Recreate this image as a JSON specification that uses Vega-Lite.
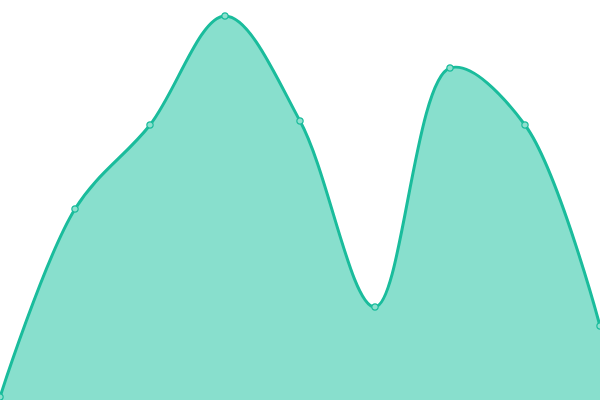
{
  "$schema": "https://vega.github.io/schema/vega-lite/v6.json",
  "width": 600,
  "height": 400,
  "autosize": {"type": "none"},
  "padding": 0,
  "view": {"stroke": null},
  "data": {
    "values": [
      {"i": 0, "v": 3},
      {"i": 1, "v": 191},
      {"i": 2, "v": 275},
      {"i": 3, "v": 384},
      {"i": 4, "v": 279},
      {"i": 5, "v": 93},
      {"i": 6, "v": 332},
      {"i": 7, "v": 275},
      {"i": 8, "v": 74}
    ]
  },
  "encoding": {
    "x": {"field": "i", "type": "quantitative", "axis": null, "scale": {"domain": [0, 8], "nice": false, "zero": false}},
    "y": {"field": "v", "type": "quantitative", "axis": null, "scale": {"domain": [0, 400], "nice": false}}
  },
  "layer": [
    {"mark": {"type": "area", "interpolate": "catmull-rom", "color": "#88dfcd"}},
    {"mark": {"type": "line", "interpolate": "catmull-rom", "color": "#1abc9c", "strokeWidth": 3}},
    {"mark": {"type": "point", "filled": true, "fill": "#8ee0ce", "stroke": "#1abc9c", "strokeWidth": 1.2, "size": 40, "opacity": 1}}
  ]
}
